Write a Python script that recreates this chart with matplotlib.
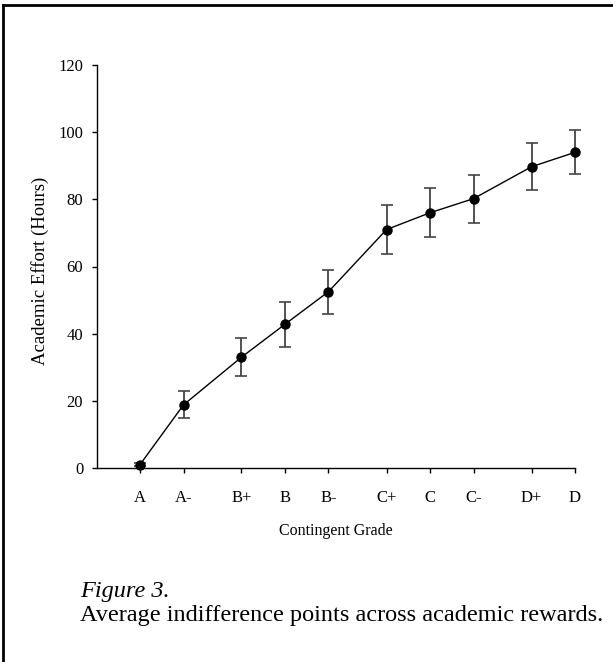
import numpy as np
import matplotlib
matplotlib.use("Agg")
import matplotlib.pyplot as plt
from matplotlib.lines import Line2D

# grade labels and their spacing on the axis (wider gap between letters)
grades = ['A', 'A-', 'B+', 'B', 'B-', 'C+', 'C', 'C-', 'D+', 'D']
x_pos = [1, 2, 3.333, 4.333, 5.333, 6.667, 7.667, 8.667, 10, 11]

# average indifference points (hours) and error bars
effort = [1.0, 18.8, 33.0, 42.8, 52.5, 71.0, 76.0, 80.2, 89.7, 94.0]
err = [0.5, 4.0, 5.7, 6.7, 6.6, 7.4, 7.3, 7.1, 7.0, 6.6]

plt.rcParams['font.family'] = ['Liberation Serif', 'DejaVu Serif']

W, H = 613, 662
fig = plt.figure(figsize=(W / 100, H / 100), dpi=100)
ax = fig.add_axes([96.5 / W, 1 - 468 / H, (575 - 96.5) / W, (468 - 65) / H])

line, caps, bars = ax.errorbar(x_pos, effort, yerr=err, color='black', ecolor='#444444',
                               lw=1.0, elinewidth=1.3, capsize=4.5, capthick=1.2,
                               marker='o', markersize=6.5, mfc='black', mec='black')
line.set_clip_on(False)
for c in caps:
    c.set_clip_on(False)
for b in bars:
    b.set_clip_on(False)

ax.set_xlim(0, 11)
ax.set_ylim(0, 120)
ax.set_yticks(np.arange(0, 121, 20))
ax.set_xticks(x_pos)
ax.set_xticklabels(grades)
ax.spines['top'].set_visible(False)
ax.spines['right'].set_visible(False)
ax.spines['left'].set_linewidth(1.0)
ax.spines['bottom'].set_linewidth(1.0)
ax.tick_params(axis='both', direction='out', length=3.6, width=1.0, labelsize=12)
ax.tick_params(axis='x', pad=12)
ax.tick_params(axis='y', pad=6)

ax.set_ylabel('Academic Effort (Hours)', fontsize=13.5, va='center')
ax.yaxis.set_label_coords(-0.118, 0.49)
ax.set_xlabel('Contingent Grade', fontsize=11.5, va='center')
ax.xaxis.set_label_coords(0.5, -0.156)

# caption below the chart
fig.text(80 / W, 1 - 592 / H, 'Figure 3.', fontsize=17.5, style='italic',
         ha='left', va='center')
fig.text(80 / W, 1 - 616 / H, 'Average indifference points across academic rewards.',
         fontsize=17.5, ha='left', va='center')

# frame lines at the top and left edge of the page
fig.add_artist(Line2D([3 / W, 3 / W], [0, 1 - 5 / H], transform=fig.transFigure,
                      color='black', lw=2.0))
fig.add_artist(Line2D([3 / W, 1], [1 - 5 / H, 1 - 5 / H], transform=fig.transFigure,
                      color='black', lw=2.0))

fig.savefig('out.png', dpi=100)
